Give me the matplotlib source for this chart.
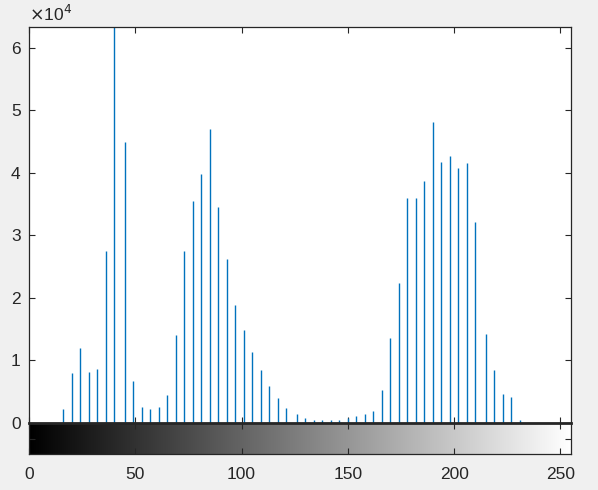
import numpy as np
import matplotlib
matplotlib.use("Agg")
import matplotlib.pyplot as plt

# grey levels present in the image and their pixel counts
levels = [16, 20, 24, 28, 32, 36, 40, 45, 49, 53, 57, 61, 65, 69, 73, 77, 81, 85,
          89, 93, 97, 101, 105, 109, 113, 117, 121, 126, 130, 134, 138, 142, 146,
          150, 154, 158, 162, 166, 170, 174, 178, 182, 186, 190, 194, 198, 202,
          206, 210, 215, 219, 223, 227, 231]
counts = [2200, 8000, 12000, 8150, 8600, 27500, 63300, 44900, 6700, 2560, 2200,
          2560, 4500, 14000, 27500, 35500, 39800, 47000, 34600, 26200, 18900,
          14900, 11300, 8450, 5850, 4000, 2350, 1400, 800, 450, 430, 430, 430,
          800, 1100, 1400, 1900, 5300, 13600, 22300, 35900, 35900, 38700, 48100,
          41800, 42600, 40700, 41600, 32100, 14300, 8400, 4700, 4200, 430]
xticks = [0, 50, 100, 150, 200, 250]
yticks = [0, 1, 2, 3, 4, 5, 6]

plt.rcParams['font.family'] = ['Liberation Sans', 'DejaVu Sans']
plt.rcParams['font.size'] = 12.5
txt = "#262626"

fig = plt.figure(figsize=(5.98, 4.90), dpi=100, facecolor="#f0f0f0")
ax = fig.add_axes([29 / 598, 1 - 423 / 490, 542 / 598, 396 / 490])
cb = fig.add_axes([29 / 598, 1 - 454 / 490, 542 / 598, 31 / 490])

ax.vlines(levels, 0, counts, color="#0072bd", lw=1)
ax.set_xlim(0, 255)
ax.set_ylim(0, max(counts))
ax.set_xticks(xticks)
ax.set_xticklabels([])
ax.set_yticks([v * 1e4 for v in yticks])
ax.set_yticklabels([str(v) for v in yticks])
ax.tick_params(direction="in", length=4, width=0.8, color=txt, labelcolor=txt,
               top=True, right=True, pad=6)
for s in ax.spines.values():
    s.set_color(txt)
    s.set_linewidth(0.9)
ax.text(0, 1.008, r"$\times$10$^{4}$", transform=ax.transAxes, color=txt,
        fontsize=12.5, ha="left", va="bottom")

# grey ramp under the histogram
ramp = np.linspace(0, 255, 256).reshape(1, -1)
cb.imshow(ramp, cmap="gray", aspect="auto", extent=[0, 255, 0, 1],
          vmin=0, vmax=255)
cb.set_xlim(0, 255)
cb.set_ylim(0, 1)
cb.set_xticks(xticks)
cb.set_yticks([0.5])
cb.set_yticklabels([])
cb.tick_params(direction="in", length=4, width=0.8, color=txt, labelcolor=txt,
               top=True, right=True, pad=9)
for s in cb.spines.values():
    s.set_color(txt)
    s.set_linewidth(0.9)
cb.spines["top"].set_linewidth(2)

fig.savefig("out.png", dpi=100, facecolor=fig.get_facecolor())
